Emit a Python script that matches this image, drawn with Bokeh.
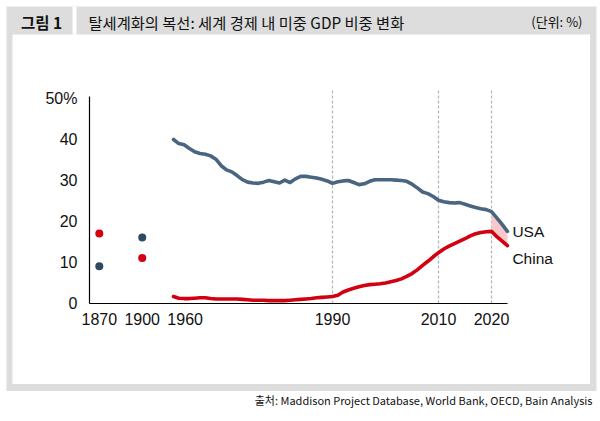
from bokeh.plotting import figure
from bokeh.models import FixedTicker, BoxAnnotation, Label
from bokeh.embed import file_html
from bokeh.resources import INLINE

# ---------------- data ----------------
early_years = [1870, 1900]
usa_early = [9.1, 16.1]
china_early = [17.1, 11.1]

years = list(range(1960, 2024))
usa = [
    40.0, 39.0, 38.7, 37.8, 37.0, 36.6, 36.4, 36.0, 35.2, 33.6,   # 1960-69
    32.6, 32.1, 31.2, 30.2, 29.6, 29.4, 29.3, 29.6, 30.0, 29.7,   # 1970-79
    29.4, 30.1, 29.5, 30.4, 31.0, 31.0, 30.8, 30.6, 30.3, 29.9,   # 1980-89
    29.3, 29.7, 29.9, 30.0, 29.5, 29.0, 29.2, 29.8, 30.2, 30.2,   # 1990-99
    30.2, 30.2, 30.1, 30.0, 29.8, 29.1, 28.2, 27.2, 26.8, 26.1,   # 2000-09
    25.2, 24.8, 24.6, 24.5, 24.6, 24.2, 23.8, 23.4, 23.1, 22.9,   # 2010-19
    22.4, 20.9, 19.3, 17.6,                                       # 2020-23
]
china = [
    1.7, 1.3, 1.2, 1.2, 1.3, 1.4, 1.4, 1.2, 1.1, 1.1,             # 1960-69
    1.1, 1.1, 1.1, 1.0, 0.9, 0.8, 0.8, 0.8, 0.7, 0.7,             # 1970-79
    0.7, 0.7, 0.8, 0.9, 1.0, 1.1, 1.2, 1.4, 1.5, 1.6,             # 1980-89
    1.7, 2.0, 2.8, 3.3, 3.7, 4.1, 4.4, 4.6, 4.7, 4.8,             # 1990-99
    5.0, 5.3, 5.6, 6.0, 6.6, 7.3, 8.2, 9.3, 10.3, 11.4,           # 2000-09
    12.4, 13.3, 14.0, 14.6, 15.2, 15.8, 16.5, 17.0, 17.3, 17.5,   # 2010-19
    17.6, 16.3, 15.2, 14.1,                                       # 2020-23
]

tick_years = [1870, 1900, 1960, 1990, 2010, 2020]
y_ticks = [0, 10, 20, 30, 40, 50]
y_tick_labels = ["0", "10", "20", "30", "40", "50%"]
grid_years = [1990, 2010, 2020]
highlight_from = 2020
series_names = ["USA", "China"]

title_tag = "그림 1"
title_text = "탈세계화의 복선: 세계 경제 내 미중 GDP 비중 변화"
unit_text = "(단위: %)"
source_text = "출처: Maddison Project Database, World Bank, OECD, Bain Analysis"

# ---------------- styles / layout ----------------
USA_LINE = "#4a6580"
USA_DOT = "#2f4a60"
CHINA_RED = "#d20010"
GAP_PINK = "#f9c8cb"
FRAME_GRAY = "#dcdddc"
GRID_GRAY = "#b8b8b8"
TEXT = "#111111"
LATIN = "Liberation Sans"
KOREAN = "Noto Sans CJK KR"

W, H = 600, 421
# the plot frame fills the whole canvas; these map canvas pixels to data
PX_PER_YEAR = 5.3
X_1960 = 173.0     # canvas px of the year 1960
PX_PER_PCT = 4.1
Y_ZERO = 303.0     # canvas px (from top) of 0 %
PLOT_LEFT, PLOT_RIGHT, PLOT_TOP, GRID_TOP = 89, 507, 96, 90


def cx(px):
    return 1960 + (px - X_1960) / PX_PER_YEAR


def cy(py):
    return (Y_ZERO - py) / PX_PER_PCT


# broken time axis: years before 1960 sit on a compressed stub
STUB_START = 1946.0
STUB_SCALE = 0.27


def axis_pos(year):
    if year >= 1960:
        return float(year)
    return STUB_START + (year - 1870) * STUB_SCALE


LABEL_NUDGE = {1960: 2.2}  # 1960 label pushed right so it clears "1900"

p = figure(width=W, height=H, x_range=(cx(0), cx(W)), y_range=(cy(H), cy(0)),
           output_backend="svg", toolbar_location=None,
           min_border=0)
p.outline_line_color = None
p.background_fill_color = "white"
p.border_fill_color = "white"
p.grid.visible = False

# frame decoration
for l, r, t, b, c in [(6, 596, 6, 390.5, FRAME_GRAY),
                      (12, 589.5, 34, 383.5, "white"),
                      (72, 76, 6, 34, "white")]:
    p.add_layout(BoxAnnotation(left=cx(l), right=cx(r), top=cy(t), bottom=cy(b),
                               fill_color=c, fill_alpha=1, line_color=None,
                               level="underlay"))

# axes drawn inside the frame at fixed locations
xticks = [axis_pos(y) + LABEL_NUDGE.get(y, 0) for y in tick_years]
p.xaxis.ticker = FixedTicker(ticks=xticks)
p.xaxis.major_label_overrides = {xt: str(y) for xt, y in zip(xticks, tick_years)}
p.xaxis.fixed_location = 0
p.xaxis.bounds = (cx(PLOT_LEFT), cx(PLOT_RIGHT))
p.yaxis.ticker = FixedTicker(ticks=y_ticks)
p.yaxis.major_label_overrides = {t: s for t, s in zip(y_ticks, y_tick_labels)}
p.yaxis.fixed_location = cx(PLOT_LEFT)
p.yaxis.bounds = (0, cy(PLOT_TOP))
for ax in (p.xaxis, p.yaxis):
    ax.axis_line_color = "black"
    ax.axis_line_width = 1.2
    ax.major_tick_line_color = None
    ax.minor_tick_line_color = None
    ax.major_label_text_font = LATIN
    ax.major_label_text_font_size = "16px"
    ax.major_label_text_color = TEXT
p.xaxis.major_label_standoff = 3
p.yaxis.major_label_standoff = 6

# dashed vertical reference lines
gx = [axis_pos(y) for y in grid_years]
p.segment(x0=gx, y0=[0] * len(gx), x1=gx, y1=[cy(GRID_TOP)] * len(gx),
          line_color=GRID_GRAY, line_dash="3 2", line_width=1.3)

# gap shading since 2020
i0 = years.index(highlight_from)
p.varea(x=[axis_pos(y) for y in years[i0:]], y1=china[i0:], y2=usa[i0:],
        fill_color=GAP_PINK, fill_alpha=1)

xs = [axis_pos(y) for y in years]
p.line(xs, usa, line_color=USA_LINE, line_width=3.6, line_join="round", line_cap="round")
p.line(xs, china, line_color=CHINA_RED, line_width=3.6, line_join="round", line_cap="round")

ex = [axis_pos(y) for y in early_years]
p.scatter(ex, usa_early, size=8, fill_color=USA_DOT, line_color=None)
p.scatter(ex, china_early, size=8, fill_color=CHINA_RED, line_color=None)

# series labels at line ends
for name, vals, dy in [(series_names[0], usa, 0), (series_names[1], china, -13)]:
    p.add_layout(Label(x=axis_pos(years[-1]), y=vals[-1], x_offset=5, y_offset=dy,
                       text=name, text_font=LATIN, text_font_size="15.5px",
                       text_color=TEXT, text_baseline="middle"))

# header and footer texts
for txt, x, y, align, size, style in [
        (title_tag, 41, 21, "center", "15.5px", "bold"),
        (title_text, 88, 21, "left", "15.3px", "normal"),
        (unit_text, 582, 21, "right", "13px", "normal"),
        (source_text, 592, 399, "right", "11px", "normal")]:
    p.add_layout(Label(x=cx(x), y=cy(y), text=txt,
                       text_align=align, text_baseline="middle",
                       text_font=KOREAN, text_font_size=size,
                       text_font_style=style, text_color=TEXT))

open("out.html", "w").write(file_html(p, INLINE))
